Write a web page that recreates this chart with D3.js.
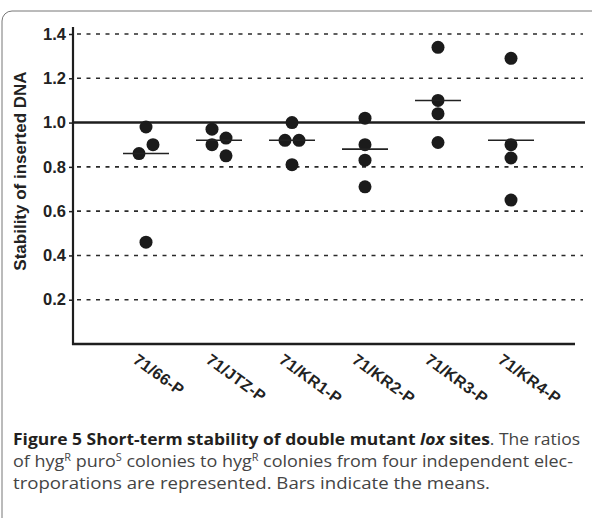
<!DOCTYPE html>
<html>
<head>
<meta charset="utf-8">
<script src="https://cdn.jsdelivr.net/npm/d3@7"></script>
<style>
  html, body { margin: 0; padding: 0; background: #fff; }
  svg { display: block; }
</style>
</head>
<body>
<svg id="chart" width="592" height="518"></svg>
<script>
// ---- data ----
const categories = ["71/66-P", "71/JTZ-P", "71/KR1-P", "71/KR2-P", "71/KR3-P", "71/KR4-P"];
const values66  = [0.98, 0.86, 0.90, 0.46];
const valuesJTZ = [0.97, 0.93, 0.90, 0.85];
const valuesKR1 = [1.00, 0.92, 0.92, 0.81];
const valuesKR2 = [1.02, 0.90, 0.83, 0.71];
const valuesKR3 = [1.34, 1.10, 1.04, 0.91];
const valuesKR4 = [1.29, 0.90, 0.84, 0.65];
const means = [0.86, 0.92, 0.92, 0.88, 1.10, 0.92];
const yTicks = [0.2, 0.4, 0.6, 0.8, 1.0, 1.2, 1.4];
const refLine = 1.0;
const yTitle = "Stability of inserted DNA";

const groups = [values66, valuesJTZ, valuesKR1, valuesKR2, valuesKR3, valuesKR4];

// ---- layout ----
const svg = d3.select("#chart");
const x = d3.scalePoint().domain(categories).range([73, 584]).padding(1);
const y = d3.scaleLinear().domain([0, 1.4]).range([344, 34]);
const axisColor = "#1e1e1e";

// frame
svg.append("rect")
  .attr("x", 2).attr("y", 11).attr("width", 640).attr("height", 640)
  .attr("rx", 10).attr("fill", "none").attr("stroke", "#777").attr("stroke-width", 1);

// dashed gridlines
svg.append("g").selectAll("line")
  .data(yTicks.filter(t => t !== refLine))
  .join("line")
  .attr("x1", 77).attr("x2", 583)
  .attr("y1", d => y(d)).attr("y2", d => y(d))
  .attr("stroke", "#2a2a2a").attr("stroke-width", 1.6)
  .attr("stroke-dasharray", "4,5.5");

// reference line at 1.0
svg.append("line")
  .attr("x1", 73).attr("x2", 585)
  .attr("y1", y(refLine)).attr("y2", y(refLine))
  .attr("stroke", axisColor).attr("stroke-width", 2.6);

// y axis
const yAxis = d3.axisLeft(y).tickValues(yTicks).tickSize(4).tickPadding(3)
  .tickFormat(d3.format(".1f"));
const gy = svg.append("g").attr("transform", "translate(73,0)").call(yAxis);
gy.select(".domain").remove();
gy.selectAll(".tick line").attr("stroke", axisColor).attr("stroke-width", 1.5);
gy.selectAll(".tick text")
  .attr("font-family", "Liberation Sans, Arial, sans-serif")
  .attr("font-weight", "bold").attr("font-size", 16.5).attr("fill", "#222");
svg.append("line")
  .attr("x1", 73).attr("x2", 73).attr("y1", 27).attr("y2", 345)
  .attr("stroke", axisColor).attr("stroke-width", 2.2);

// x axis
const xAxis = d3.axisBottom(x).tickSize(0).tickPadding(0);
const gx = svg.append("g").attr("transform", "translate(0,344)").call(xAxis);
gx.select(".domain").remove();
gx.selectAll(".tick text")
  .attr("font-family", "Liberation Sans, Arial, sans-serif")
  .attr("font-weight", "bold").attr("font-size", 16).attr("fill", "#222")
  .attr("letter-spacing", 0.3)
  .attr("text-anchor", "start")
  .attr("dy", 0)
  .attr("y", 0)
  .attr("transform", "translate(-14.5,18) rotate(36)");
svg.append("line")
  .attr("x1", 72).attr("x2", 575).attr("y1", 344).attr("y2", 344)
  .attr("stroke", axisColor).attr("stroke-width", 2.4);

// y title
svg.append("text")
  .attr("transform", "translate(26,171) rotate(-90)")
  .attr("text-anchor", "middle")
  .attr("font-family", "Liberation Sans, Arial, sans-serif")
  .attr("font-weight", "bold").attr("font-size", 17).attr("fill", "#222")
  .text(yTitle);

// points: values falling in the same bin are spread side by side
const binOf = v => Math.floor((v - 0.005) / 0.07);
const spread = 14;
const points = [];
groups.forEach((vals, gi) => {
  const bins = d3.group(vals.map((v, i) => ({ v, i })), d => binOf(d.v));
  bins.forEach(members => {
    members.forEach((m, k) => {
      points.push({
        cat: categories[gi],
        v: m.v,
        off: (k - (members.length - 1) / 2) * spread
      });
    });
  });
});
svg.append("g").selectAll("circle")
  .data(points)
  .join("circle")
  .attr("cx", d => x(d.cat) + d.off)
  .attr("cy", d => y(d.v))
  .attr("r", 6.5)
  .attr("fill", "#1b1b1b");

// mean bars
svg.append("g").selectAll("line")
  .data(means.map((m, i) => ({ cat: categories[i], m })))
  .join("line")
  .attr("x1", d => x(d.cat) - 23).attr("x2", d => x(d.cat) + 23)
  .attr("y1", d => y(d.m)).attr("y2", d => y(d.m))
  .attr("stroke", "#222").attr("stroke-width", 1.6);

// caption
const cap = svg.append("g")
  .attr("font-family", "Open Sans, Noto Sans, sans-serif")
  .attr("font-size", 16.5);

const l1 = cap.append("text").attr("x", 13).attr("y", 445)
  .attr("textLength", 567).attr("lengthAdjust", "spacingAndGlyphs");
l1.append("tspan").attr("font-weight", "bold").attr("fill", "#231f20")
  .text("Figure 5 Short-term stability of double mutant ");
l1.append("tspan").attr("font-weight", "bold").attr("font-style", "italic").attr("fill", "#231f20")
  .text("lox");
l1.append("tspan").attr("font-weight", "bold").attr("fill", "#231f20").text(" sites");
l1.append("tspan").attr("fill", "#444").text(". The ratios");

const l2 = cap.append("text").attr("x", 13).attr("y", 467).attr("fill", "#444")
  .attr("textLength", 560).attr("lengthAdjust", "spacingAndGlyphs");
const sup = (t, s) => { t.append("tspan").attr("font-size", 10).attr("dy", -6).text(s); };
const norm = (t, s, back) => { t.append("tspan").attr("dy", back ? 6 : 0).text(s); };
norm(l2, "of hyg", false); sup(l2, "R");
norm(l2, " puro", true); sup(l2, "S");
norm(l2, " colonies to hyg", true); sup(l2, "R");
norm(l2, " colonies from four independent elec-", true);

cap.append("text").attr("x", 13).attr("y", 489).attr("fill", "#444")
  .attr("textLength", 477).attr("lengthAdjust", "spacingAndGlyphs")
  .text("troporations are represented. Bars indicate the means.");
</script>
</body>
</html>
